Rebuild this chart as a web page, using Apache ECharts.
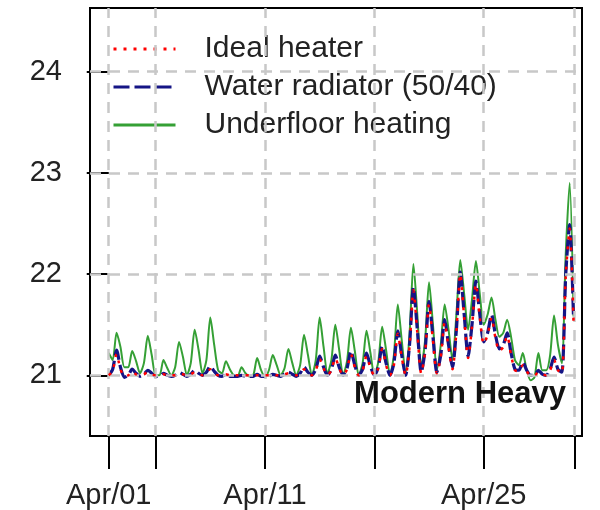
<!DOCTYPE html>
<html>
<head>
<meta charset="utf-8">
<script src="https://cdn.jsdelivr.net/npm/echarts@6/dist/echarts.min.js"></script>
<style>
	html, body {margin: 0; padding: 0; background: #fff;}
	#chart {width: 600px; height: 510px;}
</style>
</head>
<body>
<div id="chart"></div>
<script>
// one row per day, samples at 00h, 06h, 12h, 18h
const stepDays = 0.25;

const idealHeater = [
	[21.00, 21.04, 21.21, 21.06], [20.99, 21.00, 21.04, 21.01], [21.00, 21.01, 21.03, 21.01],
	[21.00, 21.00, 21.01, 21.00], [21.00, 21.00, 21.02, 21.01], [21.00, 21.01, 21.03, 21.01],
	[21.00, 21.02, 21.06, 21.02], [21.00, 21.00, 21.01, 21.00], [21.00, 21.00, 21.00, 21.00],
	[21.00, 21.00, 21.00, 21.00], [21.00, 21.00, 21.01, 21.00], [21.00, 21.01, 21.02, 21.01],
	[21.00, 21.02, 21.06, 21.02], [21.00, 21.05, 21.16, 21.07], [21.00, 21.05, 21.17, 21.07],
	[21.00, 21.06, 21.21, 21.08], [21.00, 21.05, 21.19, 21.07], [21.00, 21.07, 21.26, 21.10],
	[21.00, 21.10, 21.41, 21.18], [21.00, 21.28, 21.84, 21.42], [21.02, 21.23, 21.70, 21.35],
	[21.02, 21.18, 21.52, 21.27], [21.06, 21.43, 22.00, 21.57], [21.17, 21.48, 21.90, 21.57],
	[21.31, 21.40, 21.57, 21.37], [21.24, 21.28, 21.39, 21.20], [21.05, 21.04, 21.10, 21.04],
	[21.00, 21.00, 21.03, 21.01], [21.00, 21.05, 21.15, 21.05], [21.02, 21.98, 22.45, 21.52]
];

const waterRadiator = [
	[21.00, 21.06, 21.25, 21.08], [20.98, 21.00, 21.06, 21.02], [20.99, 21.01, 21.05, 21.02],
	[20.99, 20.99, 21.02, 21.00], [20.99, 21.00, 21.03, 21.01], [20.99, 21.01, 21.05, 21.02],
	[21.00, 21.03, 21.09, 21.04], [21.00, 20.99, 21.01, 20.99], [20.99, 20.99, 21.00, 20.99],
	[20.99, 20.99, 21.01, 20.99], [20.99, 20.99, 21.01, 21.00], [20.99, 21.01, 21.03, 21.01],
	[20.99, 21.02, 21.08, 21.03], [21.00, 21.06, 21.19, 21.08], [21.00, 21.06, 21.20, 21.08],
	[21.00, 21.07, 21.24, 21.10], [21.00, 21.06, 21.22, 21.09], [21.00, 21.08, 21.29, 21.12],
	[21.00, 21.12, 21.44, 21.20], [21.00, 21.30, 21.87, 21.45], [21.03, 21.25, 21.73, 21.38],
	[21.03, 21.20, 21.55, 21.30], [21.08, 21.45, 22.02, 21.60], [21.19, 21.50, 21.93, 21.60],
	[21.33, 21.42, 21.60, 21.40], [21.26, 21.30, 21.42, 21.22], [21.06, 21.05, 21.13, 21.05],
	[21.00, 21.00, 21.05, 21.01], [21.00, 21.06, 21.18, 21.06], [21.03, 22.00, 22.49, 21.55]
];

const underfloor = [
	[21.22, 21.15, 21.42, 21.28], [21.08, 21.08, 21.24, 21.14], [21.02, 21.12, 21.39, 21.20],
	[21.00, 21.00, 21.15, 21.07], [21.00, 21.08, 21.33, 21.18], [21.00, 21.12, 21.45, 21.25],
	[21.02, 21.15, 21.57, 21.30], [21.05, 21.02, 21.14, 21.06], [21.00, 20.99, 21.08, 21.02],
	[20.99, 21.00, 21.17, 21.05], [20.98, 21.05, 21.20, 21.10], [21.00, 21.07, 21.26, 21.12],
	[21.00, 21.10, 21.40, 21.20], [21.00, 21.15, 21.57, 21.28], [21.02, 21.15, 21.50, 21.25],
	[21.00, 21.14, 21.47, 21.24], [21.00, 21.12, 21.44, 21.22], [21.00, 21.13, 21.48, 21.25],
	[21.00, 21.20, 21.70, 21.35], [21.02, 21.40, 22.10, 21.60], [21.08, 21.35, 21.92, 21.50],
	[21.05, 21.30, 21.70, 21.45], [21.15, 21.60, 22.14, 21.80], [21.45, 21.75, 22.13, 21.80],
	[21.50, 21.60, 21.77, 21.55], [21.38, 21.42, 21.55, 21.38], [21.15, 21.10, 21.22, 21.05],
	[20.95, 20.98, 21.22, 21.05], [21.05, 21.20, 21.59, 21.30], [21.12, 22.20, 22.90, 21.58]
];

// axis ticks (days since Apr/01)
const xTickDays = [0, 3, 10, 17, 24, 29.8];
const xLabelDays = [0, 10, 24];
const xLabelText = ['Apr/01', 'Apr/11', 'Apr/25'];
const yTicks = [21, 22, 23, 24];

const FONT = '"Liberation Sans", Arial, sans-serif';

function toPoints(rows)
{
	return rows.flat().map((v, i) => [i * stepDays, v]);
}

let chart = echarts.init(document.getElementById('chart'), null, {renderer: 'canvas'});

let gridLines = xTickDays.map(d => ({xAxis: d})).concat(yTicks.map(v => ({yAxis: v})));

chart.setOption({
	animation: false,
	backgroundColor: '#fff',
	grid: {
		left: 90, right: 18, top: 8, bottom: 73,
		show: true, borderColor: '#000', borderWidth: 2
	},
	title: {
		text: 'Modern Heavy',
		right: 34, top: 379, padding: 0,
		textStyle: {fontFamily: FONT, fontSize: 31, fontWeight: 'bold', color: '#111'}
	},
	legend: {
		data: ['Ideal heater', 'Water radiator (50/40)', 'Underfloor heating'],
		orient: 'vertical',
		left: 107, top: 29,
		itemWidth: 62, itemHeight: 14, itemGap: 8,
		itemStyle: {opacity: 0},
		lineStyle: {width: 3},
		textStyle: {fontFamily: FONT, fontSize: 30, color: '#222', padding: [0, 0, 0, 24]}
	},
	xAxis: {
		type: 'value',
		min: -1.2, max: 30.29,
		axisLine: {show: false},
		splitLine: {show: false},
		axisTick: {show: true, customValues: xTickDays, length: 33, lineStyle: {color: '#000', width: 2}},
		axisLabel: {
			customValues: xLabelDays,
			margin: 45,
			fontFamily: FONT, fontSize: 29, color: '#222',
			formatter: v => xLabelText[xLabelDays.indexOf(v)] || ''
		}
	},
	yAxis: {
		type: 'value',
		min: 20.4, max: 24.63,
		axisLine: {show: false},
		splitLine: {show: false},
		axisTick: {show: true, customValues: yTicks, length: 22, lineStyle: {color: '#000', width: 2}},
		axisLabel: {customValues: yTicks, margin: 28, fontFamily: FONT, fontSize: 29, color: '#222'}
	},
	series: [
		{
			// grey dashed grid behind the data
			name: 'grid', type: 'line', data: [], z: 1, silent: true,
			markLine: {
				silent: true, symbol: ['none', 'none'], label: {show: false},
				lineStyle: {color: '#c8c8c8', type: [11, 8], width: 2.5},
				data: gridLines
			}
		},
		{
			name: 'Ideal heater', type: 'line', z: 5, smooth: 0.25,
			data: toPoints(idealHeater), showSymbol: false, symbol: 'none',
			lineStyle: {color: '#ff0000', width: 2.5, type: [3, 7]},
			itemStyle: {color: '#ff0000'}
		},
		{
			name: 'Water radiator (50/40)', type: 'line', z: 4, smooth: 0.25,
			data: toPoints(waterRadiator), showSymbol: false, symbol: 'none',
			lineStyle: {color: '#151585', width: 3.2, type: [16, 5]},
			itemStyle: {color: '#151585'}
		},
		{
			name: 'Underfloor heating', type: 'line', z: 3, smooth: 0.25,
			data: toPoints(underfloor), showSymbol: false, symbol: 'none',
			lineStyle: {color: '#35a035', width: 2},
			itemStyle: {color: '#35a035'}
		}
	]
});
</script>
</body>
</html>
